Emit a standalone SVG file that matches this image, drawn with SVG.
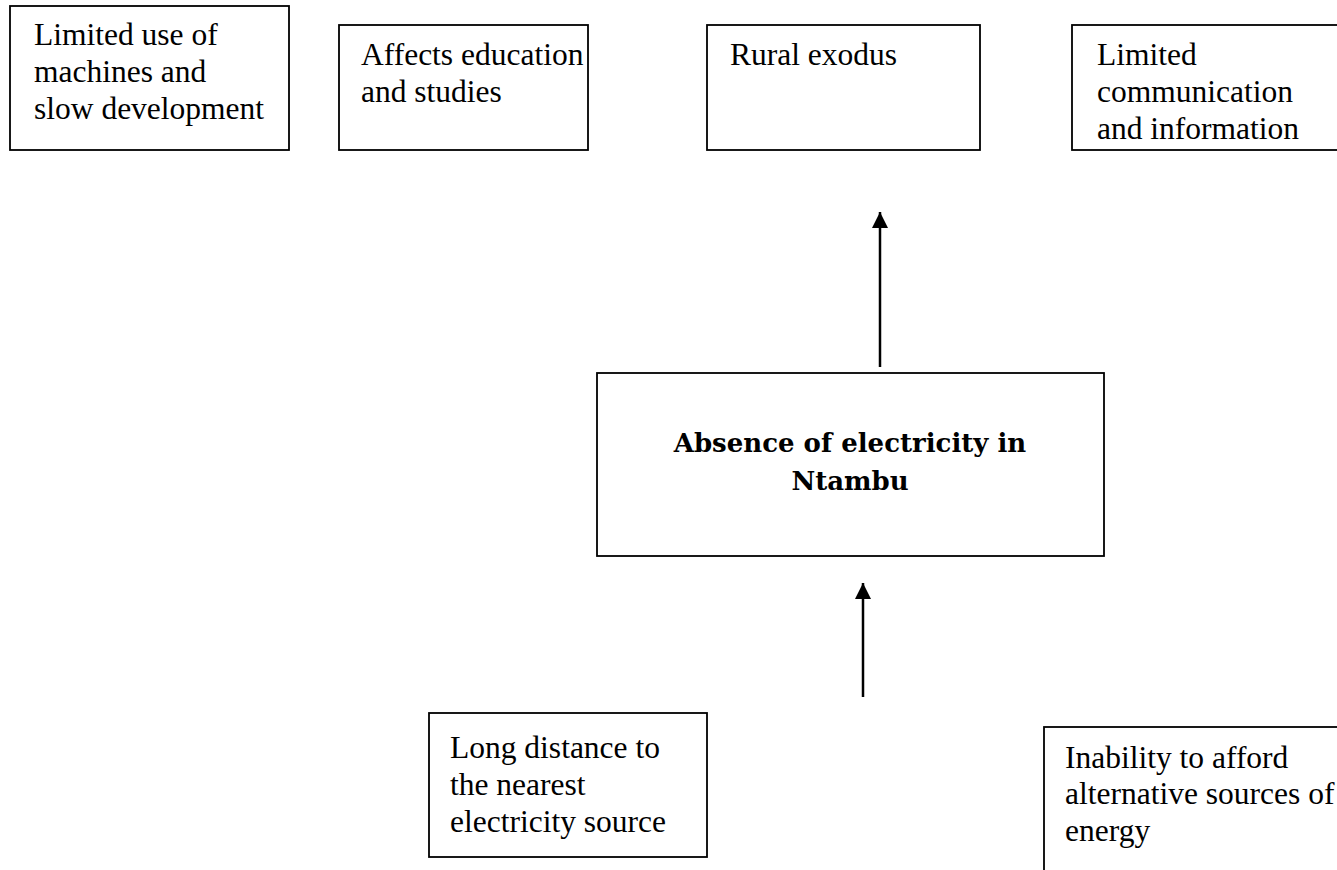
<svg xmlns="http://www.w3.org/2000/svg" width="1337" height="870" viewBox="0 0 1337 870">
  <defs>
    <style>
      .box { fill: #ffffff; stroke: #000000; stroke-width: 1.8; }
      .txt { font-family: "Liberation Serif", "Times New Roman", serif; font-size: 31.5px; fill: #000000; }
      .core { font-family: "DejaVu Serif", "Liberation Serif", serif; font-size: 26px; font-weight: bold; fill: #000000; text-anchor: middle; }
      .link { stroke: #000000; stroke-width: 2.5; fill: none; }
    </style>
    <marker id="arrowhead" viewBox="0 0 16 16" refX="16" refY="8" markerWidth="16" markerHeight="16" markerUnits="userSpaceOnUse" orient="auto">
      <path d="M0,0 L16,8 L0,16 Z" fill="#000000"/>
    </marker>
  </defs>

  <rect width="1337" height="870" fill="#ffffff"/>

  <!-- effects (top row) -->
  <g id="node-machines">
    <rect class="box" x="10" y="6" width="279" height="144"/>
    <text class="txt" x="34" y="45">Limited use of</text>
    <text class="txt" x="34" y="82">machines and</text>
    <text class="txt" x="34" y="119">slow development</text>
  </g>

  <g id="node-education">
    <rect class="box" x="339" y="25" width="249" height="125"/>
    <text class="txt" x="361" y="65">Affects education</text>
    <text class="txt" x="361" y="102">and studies</text>
  </g>

  <g id="node-exodus">
    <rect class="box" x="707" y="25" width="273" height="125"/>
    <text class="txt" x="730" y="65">Rural exodus</text>
  </g>

  <g id="node-communication">
    <rect class="box" x="1072" y="25" width="280" height="125"/>
    <text class="txt" x="1097" y="65">Limited</text>
    <text class="txt" x="1097" y="102">communication</text>
    <text class="txt" x="1097" y="139">and information</text>
  </g>

  <!-- core problem -->
  <g id="node-core">
    <rect class="box" x="597" y="373" width="507" height="183"/>
    <text class="core" x="850" y="452">Absence of electricity in</text>
    <text class="core" x="850" y="490">Ntambu</text>
  </g>

  <!-- causes (bottom row) -->
  <g id="node-distance">
    <rect class="box" x="429" y="713" width="278" height="144"/>
    <text class="txt" x="450" y="758">Long distance to</text>
    <text class="txt" x="450" y="795">the nearest</text>
    <text class="txt" x="450" y="832">electricity source</text>
  </g>

  <g id="node-afford">
    <rect class="box" x="1044" y="727" width="310" height="160"/>
    <text class="txt" x="1065" y="768">Inability to afford</text>
    <text class="txt" x="1065" y="804">alternative sources of</text>
    <text class="txt" x="1065" y="841">energy</text>
  </g>

  <!-- connectors -->
  <g id="connectors">
    <line class="link" x1="880" y1="367" x2="880" y2="212" marker-end="url(#arrowhead)"/>
    <line class="link" x1="863" y1="697" x2="863" y2="583" marker-end="url(#arrowhead)"/>
  </g>
</svg>
